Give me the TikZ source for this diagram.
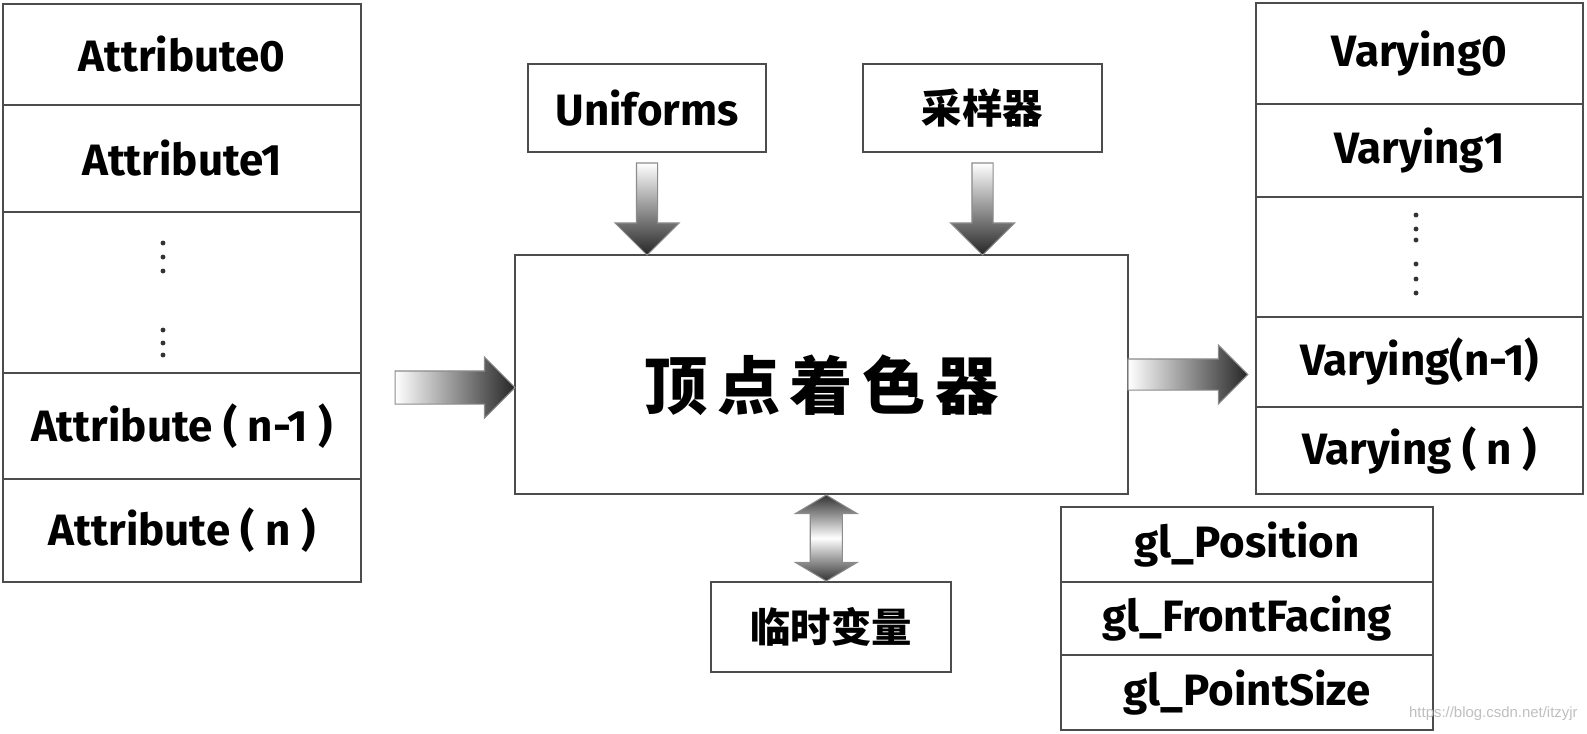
\documentclass[tikz,border=0pt]{standalone}
\usepackage{fontspec}
\setmainfont{Fira Sans}
\newfontfamily\cjk{Noto Sans CJK SC}
\newfontfamily\markfont{Liberation Sans}
\usetikzlibrary{positioning,calc,shapes.arrows}

\tikzset{
  cell/.style={draw=black!70, line width=1.1pt, fill=white, outer sep=0pt, inner sep=0pt,
    font=\fontsize{25}{30}\selectfont\bfseries},
  cjkcell/.style={cell, font=\cjk\fontsize{23}{28}\selectfont\bfseries},
  pxsize/.style 2 args={minimum width=#1*0.02cm, minimum height=#2*0.02cm},
  blockarrow/.style={draw=black!45, line width=.6pt, outer sep=0pt},
  inarrow/.style={blockarrow, single arrow, left color=white, right color=black!85,
    inner sep=.32cm, single arrow head extend=.28cm, minimum height=2.4cm},
  outarrow/.style={blockarrow, single arrow, left color=white, right color=black!85,
    inner sep=.30cm, single arrow head extend=.28cm, minimum height=2.4cm},
  downarrow/.style={blockarrow, single arrow, shape border rotate=270,
    top color=white, bottom color=black!85,
    inner sep=.2cm, single arrow head extend=.43cm, minimum height=1.84cm},
  bothwayarrow/.style={blockarrow, double arrow, shape border rotate=90,
    top color=black!80, bottom color=black!80, middle color=white,
    inner sep=.31cm, double arrow head extend=.3cm, double arrow tip angle=118,
    minimum height=1.72cm}
}

\begin{document}
\begin{tikzpicture}[x=0.02cm, y=-0.02cm]
  \useasboundingbox (0,0) rectangle (1587,734);

  % attributes going in
  \node[cell, pxsize={358}{101}] (attr0) at (182,54.5) {Attribute0};
  \node[cell, pxsize={358}{107}, below=0pt of attr0] (attr1) {Attribute1};
  \node[cell, pxsize={358}{161}, below=0pt of attr1] (attrdots) {};
  \node[cell, pxsize={358}{106}, below=0pt of attrdots] (attrn1) {Attribute ( n-1 )};
  \node[cell, pxsize={358}{103}, below=0pt of attrn1] (attrn) {Attribute ( n )};
  \foreach \y in {243,257,271,330,343,355}
    \fill[black!80] (163,\y) circle (1.4pt);

  % the shader and what feeds it
  \node[cell, pxsize={613}{239}, font=\cjk\fontsize{36}{42}\selectfont\bfseries] (vs) at (821.5,374.5)
    {\raisebox{-6pt}[\height][\depth]{顶\hspace{.15em}点\hspace{.15em}着\hspace{.15em}色\hspace{.15em}器}};
  \node[cell, pxsize={238}{88}] (uni) at (647,108) {Uniforms};
  \node[cjkcell, pxsize={239}{88}] (samp) at (982.5,108) {采样器};
  \node[cjkcell, pxsize={240}{90}] (temp) at (831,627) {临时变量};

  % varyings coming out
  \node[cell, pxsize={327}{101}] (vary0) at (1419.5,53.5) {Varying0};
  \node[cell, pxsize={327}{93}, below=0pt of vary0] (vary1) {Varying1};
  \node[cell, pxsize={327}{120}, below=0pt of vary1] (varydots) {};
  \node[cell, pxsize={327}{90}, below=0pt of varydots] (varyn1) {Varying(n-1)};
  \node[cell, pxsize={327}{87}, below=0pt of varyn1] (varyn) {Varying ( n )};
  \foreach \y in {215,229,240,264,279,293}
    \fill[black!80] (1416,\y) circle (1.4pt);

  % built-in outputs
  \node[cell, pxsize={372}{75}] (glpos) at (1247,544.5) {gl\_Position};
  \node[cell, pxsize={372}{73}, below=0pt of glpos] (glface) {gl\_FrontFacing};
  \node[cell, pxsize={372}{75}, below=0pt of glface] (glsize) {gl\_PointSize};

  % block arrows
  \node[inarrow, anchor=tip] (attrin) at ($(vs.west)+(0,13)$) {};
  \node[outarrow, anchor=tail] (varyout) at (vs.east) {};
  \node[downarrow, anchor=tip] (uniin) at (uni.south |- vs.north) {};
  \node[downarrow, anchor=tip] (sampin) at (samp.south |- vs.north) {};
  \node[bothwayarrow] (tempio) at ($(vs.south)!0.5!(temp.north)$) {};

  \node[font=\markfont\fontsize{8.5}{10}\selectfont, text=black!25, anchor=east, inner sep=0pt] (mark)
    at (1578,714) {https://blog.csdn.net/itzyjr};
\end{tikzpicture}
\end{document}
